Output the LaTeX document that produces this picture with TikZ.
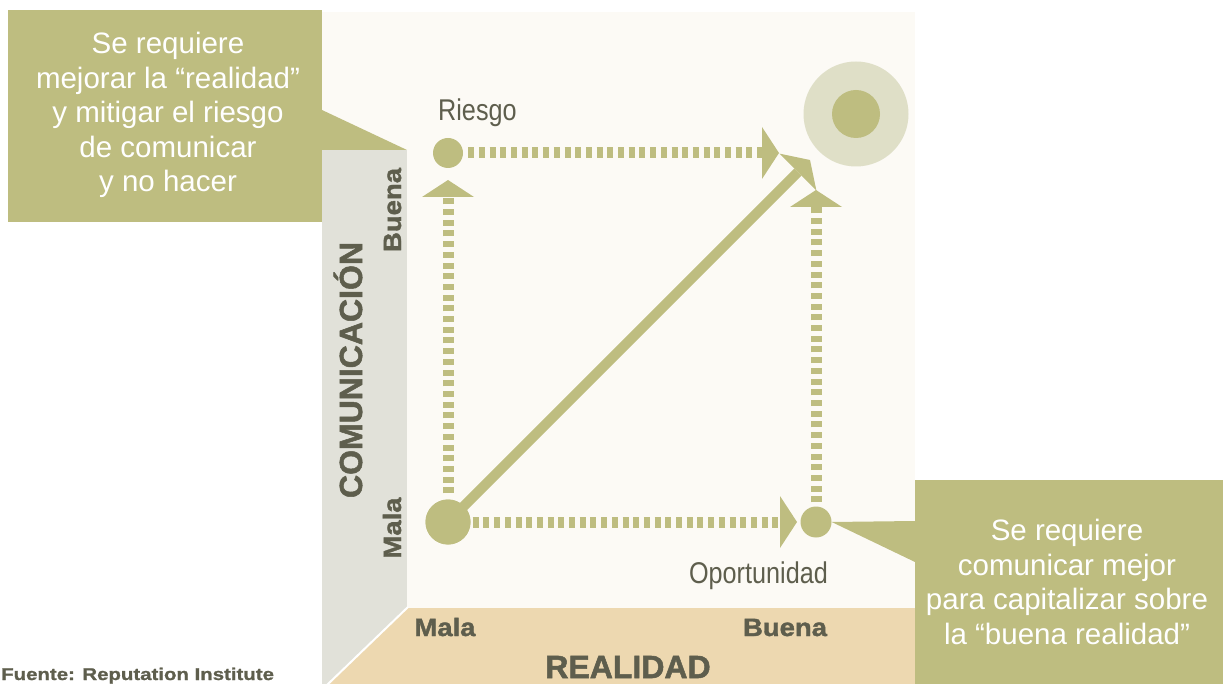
\documentclass[tikz,border=0pt]{standalone}
\usepackage{fontspec}
\setmainfont{Liberation Sans}
\newfontfamily\narrowf{Liberation Sans}[FakeStretch=0.84]
\newfontfamily\widef{Liberation Sans}[FakeStretch=1.1,FakeBold=1.6]
\newfontfamily\heavyf{Liberation Sans}[FakeBold=1.6]
\newfontfamily\wwidef{Liberation Sans}[FakeStretch=1.2,FakeBold=1.2]
\usetikzlibrary{arrows.meta}
\definecolor{olive}{RGB}{190,189,128}
\definecolor{ringc}{RGB}{223,223,199}
\definecolor{cream}{RGB}{252,250,245}
\definecolor{greyp}{RGB}{225,225,217}
\definecolor{tan}{RGB}{237,216,176}
\definecolor{darktxt}{RGB}{94,94,77}
\tikzset{
  dotnode/.style={circle, fill=olive, inner sep=0pt, minimum size=#1},
  dasharrow/.style={draw=olive, line width=11pt, dash pattern=on 6pt off 4.7pt,
    -{Triangle[length=17pt,width=52pt,line width=0pt]}},
  diagarrow/.style={draw=olive, line width=10pt,
    -{Triangle[length=17pt,width=52pt,line width=0pt]}},
  calltext/.style={text=white, align=center, inner sep=0pt,
    font=\fontsize{29.5}{34.5}\selectfont},
  pointlabel/.style={text=darktxt, inner sep=0pt, font=\narrowf\fontsize{30}{34}\selectfont},
  axissmall/.style={text=darktxt, inner sep=0pt, font=\widef\bfseries\fontsize{25}{28}\selectfont},
  axisbig/.style={text=darktxt, inner sep=0pt, font=\heavyf\bfseries\fontsize{32}{36}\selectfont},
}
\begin{document}
\begin{tikzpicture}[x=1pt,y=-1pt]
\useasboundingbox (0,0) rectangle (1223,684);
% background panels
\fill[cream] (322,12) rectangle (915,684);
\fill[olive] (8,10) rectangle (322,222);
\fill[olive] (322,110) -- (407,150) -- (322,150) -- cycle;
\fill[greyp] (322,150) rectangle (407,684);
\fill[tan] (407,608) -- (915,608) -- (915,684) -- (328,684) -- cycle;
\draw[white, line width=2pt] (408,607) -- (327,685);
\fill[olive] (915,480) rectangle (1223,684);
% target
\fill[ringc] (856,114) circle (52.5);
\fill[olive] (856,114) circle (24);
% dots
\node[dotnode=30pt] (riesgo) at (448,153) {};
\node[dotnode=45pt] (mala) at (448,522) {};
\node[dotnode=31pt] (oport) at (816,522) {};
\fill[olive] (oport.east) -- (915,521) -- (915,562) -- cycle;
% arrow tip coordinates
\coordinate (toptip) at (779,153);
\coordinate (lefttip) at (448,180);
\coordinate (bottip) at (797,522);
\coordinate (righttip) at (816,190);
\coordinate (diagtip) at (810,160);
% connectors
\draw[diagarrow] (mala.center) -- (diagtip);
\draw[dasharrow] ([xshift=5pt]riesgo.east) -- (toptip);
\draw[dasharrow] ([yshift=6pt]mala.north) -- (lefttip);
\draw[dasharrow] ([xshift=2pt]mala.east) -- (bottip);
\draw[dasharrow] ([yshift=4pt]oport.north) -- (righttip);
\node[dotnode=45pt] at (mala) {};
% labels
\node[pointlabel, anchor=base west] (lriesgo) at (438,121) {Riesgo};
\node[pointlabel, anchor=base east] (loport) at (828,583) {Oportunidad};
\node[calltext, anchor=base] (lefttext) at (168,192) {Se requiere\\mejorar la “realidad”\\y mitigar el riesgo\\de comunicar\\y no hacer};
\node[calltext, anchor=base] (righttext) at (1067,644) {Se requiere\\comunicar mejor\\para capitalizar sobre\\la “buena realidad”};
\node[axissmall, anchor=base] (fmala) at (445,636) {Mala};
\node[axissmall, anchor=base] (fbuena) at (785,636) {Buena};
\node[axisbig, anchor=base] (realidad) at (628,678) {REALIDAD};
\node[axisbig, anchor=base, rotate=90] (comun) at (362,370) {COMUNICACIÓN};
\node[axissmall, anchor=base, rotate=90] (vbuena) at (401,210) {Buena};
\node[axissmall, anchor=base, rotate=90] (vmala) at (401,528) {Mala};
\node[text=darktxt, inner sep=0pt, anchor=base west, font=\wwidef\bfseries\fontsize{17}{19}\selectfont] (fuente) at (1,680) {Fuente: Reputation Institute};
\end{tikzpicture}
\end{document}
